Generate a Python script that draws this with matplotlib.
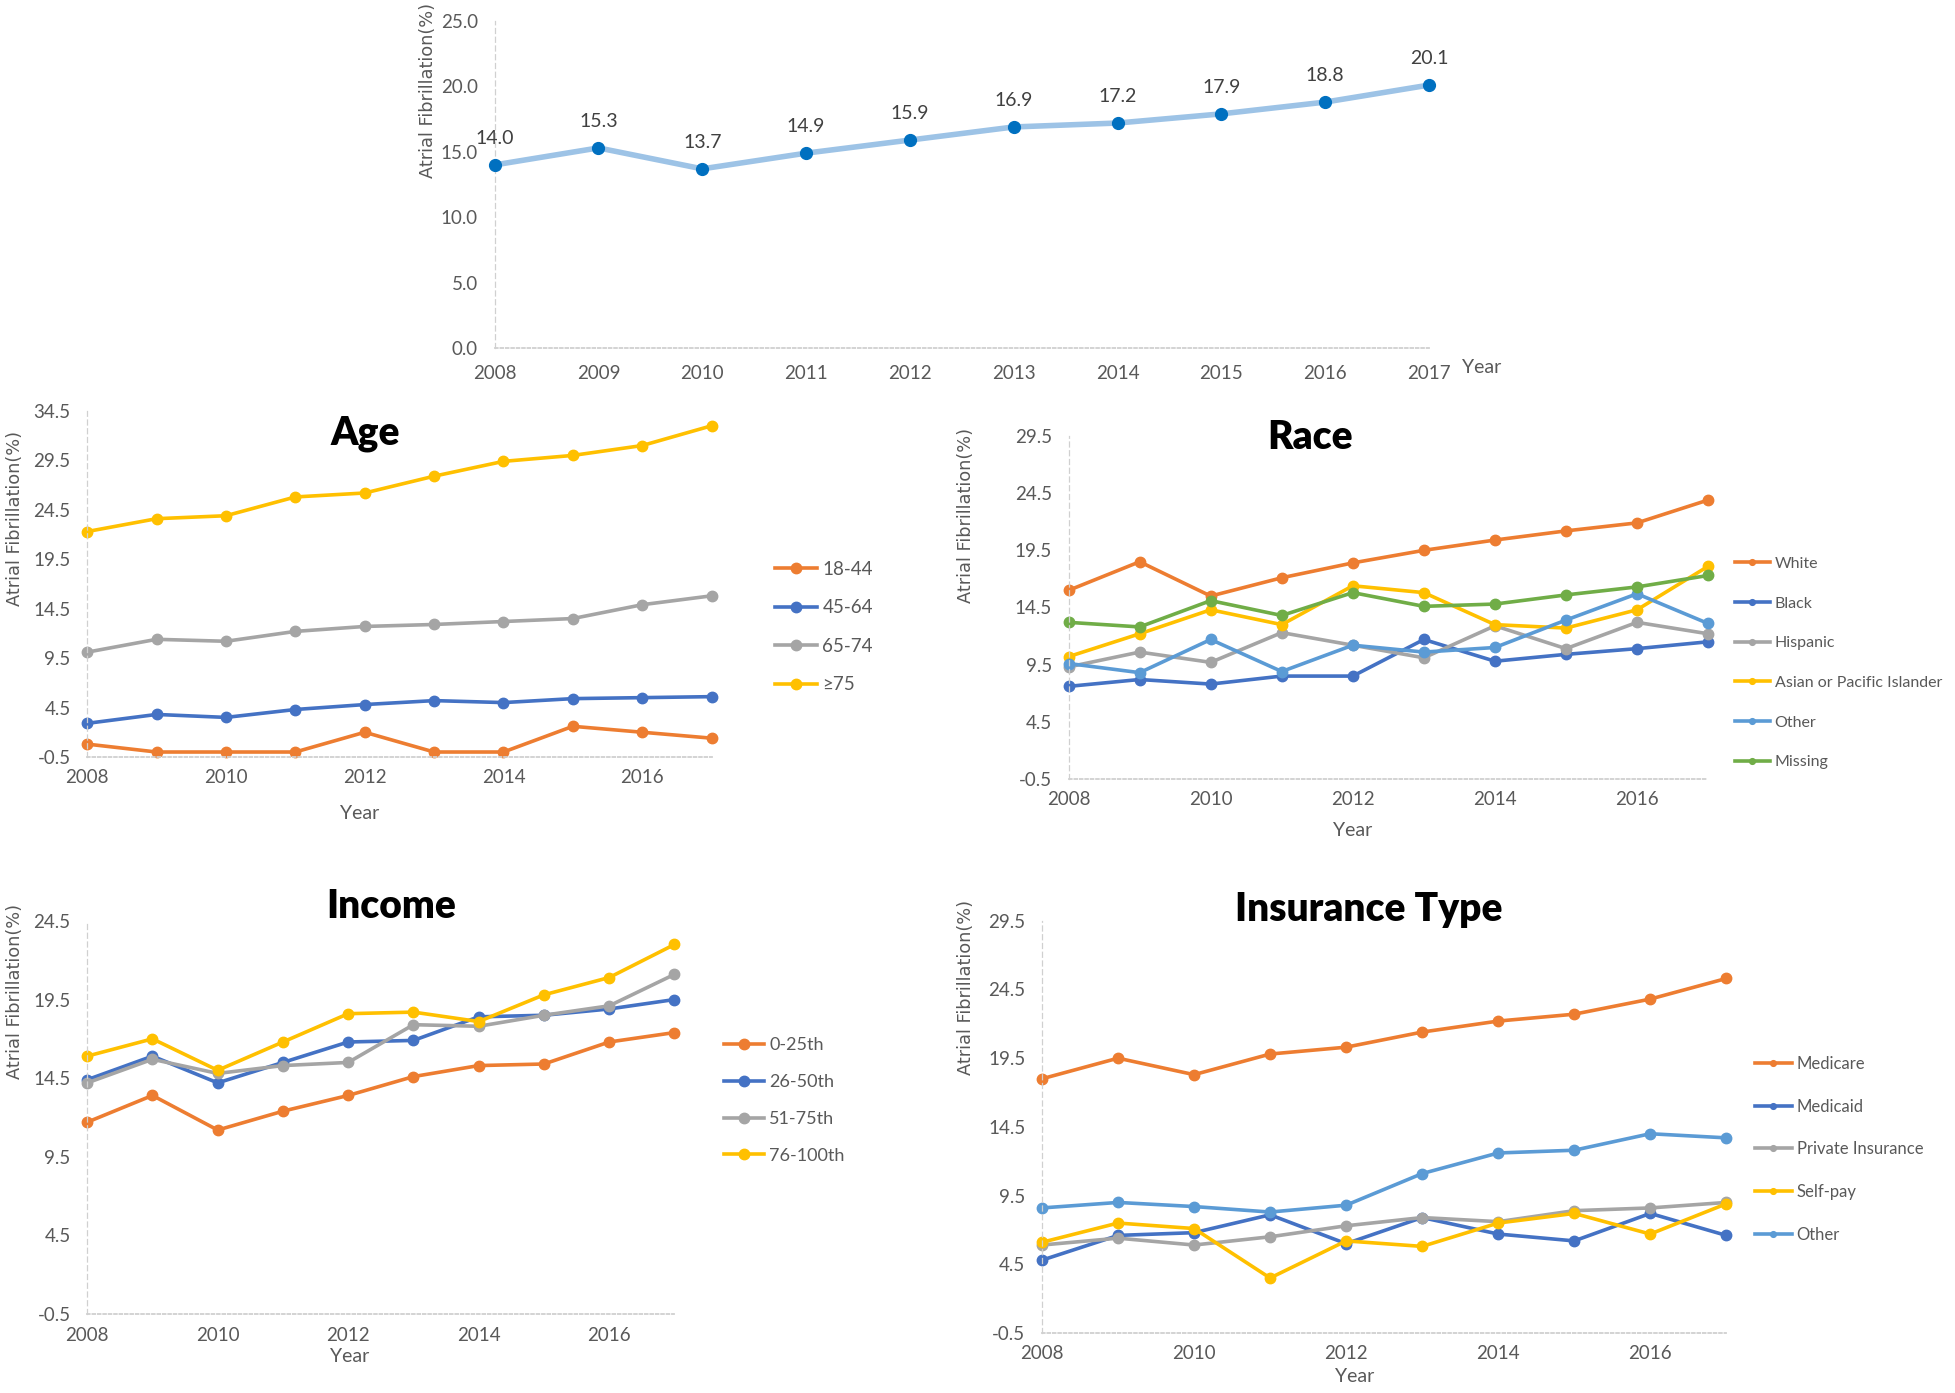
import matplotlib
matplotlib.use("Agg")
import matplotlib.pyplot as plt
import numpy as np

years = list(range(2008, 2018))
overall = [14.0, 15.3, 13.7, 14.9, 15.9, 16.9, 17.2, 17.9, 18.8, 20.1]

age_labels = ["18-44", "45-64", "65-74", "≥75"]
age_18_44 = [0.8, 0.0, 0.0, 0.0, 2.0, 0.0, 0.0, 2.6, 2.0, 1.4]
age_45_64 = [2.9, 3.8, 3.5, 4.3, 4.8, 5.2, 5.0, 5.4, 5.5, 5.6]
age_65_74 = [10.1, 11.4, 11.2, 12.2, 12.7, 12.9, 13.2, 13.5, 14.9, 15.8]
age_75 = [22.3, 23.6, 23.9, 25.8, 26.2, 27.9, 29.4, 30.0, 31.0, 33.0]

race_labels = ["White", "Black", "Hispanic", "Asian or Pacific Islander", "Other", "Missing"]
race_white = [16.0, 18.5, 15.5, 17.1, 18.4, 19.5, 20.4, 21.2, 21.9, 23.9]
race_black = [7.6, 8.2, 7.8, 8.5, 8.5, 11.7, 9.8, 10.4, 10.9, 11.5]
race_hispanic = [9.3, 10.6, 9.7, 12.3, 11.2, 10.1, 12.9, 10.9, 13.2, 12.2]
race_asian = [10.2, 12.2, 14.3, 13.0, 16.4, 15.8, 13.0, 12.7, 14.3, 18.1]
race_other = [9.6, 8.8, 11.7, 8.9, 11.2, 10.6, 11.0, 13.4, 15.7, 13.1]
race_missing = [13.2, 12.8, 15.1, 13.8, 15.8, 14.6, 14.8, 15.6, 16.3, 17.3]

income_labels = ["0-25th", "26-50th", "51-75th", "76-100th"]
inc_q1 = [11.7, 13.4, 11.2, 12.4, 13.4, 14.6, 15.3, 15.4, 16.8, 17.4]
inc_q2 = [14.4, 15.9, 14.2, 15.5, 16.8, 16.9, 18.4, 18.5, 18.9, 19.5]
inc_q3 = [14.2, 15.7, 14.8, 15.3, 15.5, 17.9, 17.8, 18.5, 19.1, 21.1]
inc_q4 = [15.9, 17.0, 15.0, 16.8, 18.6, 18.7, 18.1, 19.8, 20.9, 23.0]

ins_labels = ["Medicare", "Medicaid", "Private Insurance", "Self-pay", "Other"]
ins_medicare = [18.0, 19.5, 18.3, 19.8, 20.3, 21.4, 22.2, 22.7, 23.8, 25.3]
ins_medicaid = [4.8, 6.6, 6.8, 8.1, 6.0, 7.9, 6.7, 6.2, 8.2, 6.6]
ins_private = [5.9, 6.4, 5.9, 6.5, 7.3, 7.9, 7.6, 8.4, 8.6, 9.0]
ins_selfpay = [6.1, 7.5, 7.1, 3.5, 6.2, 5.8, 7.5, 8.2, 6.7, 8.9]
ins_other = [8.6, 9.0, 8.7, 8.3, 8.8, 11.1, 12.6, 12.8, 14.0, 13.7]

ORANGE = "#ED7D31"
BLUE = "#4472C4"
GRAY = "#A5A5A5"
YELLOW = "#FFC000"
LBLUE = "#5B9BD5"
GREEN = "#70AD47"

NARROW = ["Lato", "DejaVu Sans"]
TICKC = "#595959"

W, H = 1955, 1393
fig = plt.figure(figsize=(W / 100, H / 100), dpi=100)


def style_axes(ax):
    for s in ["top", "right"]:
        ax.spines[s].set_visible(False)
    ax.spines["left"].set_color("#D0D0D0")
    ax.spines["left"].set_linestyle((0, (4, 3)))
    ax.spines["left"].set_linewidth(0.9)
    ax.spines["bottom"].set_color("#D0D0D0")
    ax.spines["bottom"].set_linestyle((0, (1.5, 1.5)))
    ax.spines["bottom"].set_linewidth(1.3)
    ax.tick_params(length=0, colors=TICKC, labelsize=13.5)
    for lab in ax.get_xticklabels() + ax.get_yticklabels():
        lab.set_family(NARROW)


def panel(rect, series, labels, colors, ylim, title, title_xy, ylab_xy, year_xy,
          leg_xy, spacing, mscale, legsize):
    ax = fig.add_axes(rect)
    for vals, lab, c in zip(series, labels, colors):
        ax.plot(years, vals, color=c, lw=2.6, marker="o", ms=7.5, label=lab, clip_on=False)
    ax.set_xlim(2008, 2017)
    ax.set_ylim(*ylim)
    ticks = np.arange(ylim[0], ylim[1] + 0.01, 5)
    ax.set_yticks(ticks)
    ax.set_yticklabels([f"{v:.1f}" for v in ticks])
    ax.set_xticks([2008, 2010, 2012, 2014, 2016])
    ax.tick_params(axis="y", pad=12)
    ax.tick_params(axis="x", pad=9)
    style_axes(ax)
    fig.text(title_xy[0], title_xy[1], title, fontsize=28, fontweight="heavy",
             family=NARROW, ha="center", va="center", color="black")
    fig.text(ylab_xy[0], ylab_xy[1], "Atrial Fibrillation(%)", rotation=90,
             fontsize=12.8, color=TICKC, ha="center", va="top")
    fig.text(year_xy[0], year_xy[1], "Year", fontsize=14, color=TICKC,
             family=NARROW, ha="center", va="center")
    fig.legend(handles=ax.get_lines(), loc="center left", bbox_to_anchor=leg_xy,
               frameon=False, prop={"family": NARROW, "size": legsize},
               labelcolor=TICKC, labelspacing=spacing, handlelength=2.2,
               handletextpad=0.3, markerscale=mscale)
    return ax


# top overall chart
ax0 = fig.add_axes([0.253, 0.750, 0.478, 0.235])
ax0.plot(years, overall, color="#9DC3E6", lw=4, zorder=2, clip_on=False)
ax0.plot(years, overall, ls="none", marker="o", ms=8.5, color="#0070C0", zorder=3, clip_on=False)
for x, v in zip(years, overall):
    ax0.annotate(f"{v:.1f}", (x, v), xytext=(0, 13), textcoords="offset points",
                 ha="center", va="bottom", fontsize=14, color="#404040", family=NARROW)
ax0.set_xlim(2008, 2017)
ax0.set_ylim(0, 25)
ax0.set_yticks(np.arange(0, 25.1, 5))
ax0.set_yticklabels([f"{v:.1f}" for v in np.arange(0, 25.1, 5)])
ax0.set_xticks(years)
ax0.tick_params(axis="y", pad=12)
ax0.tick_params(axis="x", pad=12)
style_axes(ax0)
fig.text(0.219, 0.998, "Atrial Fibrillation(%)", rotation=90, fontsize=12.8,
         color=TICKC, ha="center", va="top")
fig.text(0.758, 0.736, "Year", fontsize=14, color=TICKC, family=NARROW,
         ha="center", va="center")

panel([0.0446, 0.4566, 0.3194, 0.2484],
      [age_18_44, age_45_64, age_65_74, age_75], age_labels,
      [ORANGE, BLUE, GRAY, YELLOW], (-0.5, 34.5), "Age",
      (0.187, 0.689), (0.0075, 0.691), (0.184, 0.416), (0.388, 0.55), 1.15, 1.0, 13.5)

panel([0.5466, 0.4408, 0.3271, 0.2462],
      [race_white, race_black, race_hispanic, race_asian, race_other, race_missing], race_labels,
      [ORANGE, BLUE, GRAY, YELLOW, LBLUE, GREEN], (-0.5, 29.5), "Race",
      (0.670, 0.686), (0.494, 0.693), (0.692, 0.404), (0.880, 0.524), 1.6, 0.55, 11.5)

panel([0.0446, 0.0567, 0.3004, 0.2822],
      [inc_q1, inc_q2, inc_q3, inc_q4], income_labels,
      [ORANGE, BLUE, GRAY, YELLOW], (-0.5, 24.5), "Income",
      (0.200, 0.349), (0.0075, 0.351), (0.179, 0.026), (0.362, 0.210), 1.15, 1.0, 13)

panel([0.533, 0.0431, 0.350, 0.2959],
      [ins_medicare, ins_medicaid, ins_private, ins_selfpay, ins_other], ins_labels,
      [ORANGE, BLUE, GRAY, YELLOW, LBLUE], (-0.5, 29.5), "Insurance Type",
      (0.700, 0.347), (0.494, 0.354), (0.693, 0.012), (0.890, 0.175), 1.6, 0.55, 12)

fig.savefig("out.png", dpi=100)
